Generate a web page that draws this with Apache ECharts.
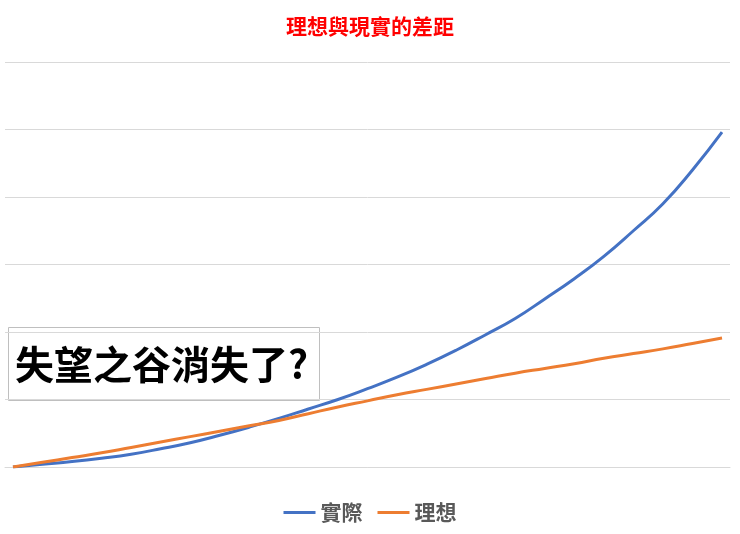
<!DOCTYPE html>
<html>
<head>
<meta charset="utf-8">
<script src="https://cdn.jsdelivr.net/npm/echarts@6/dist/echarts.min.js"></script>
<style>
  html, body { margin: 0; padding: 0; background: #fff; }
  #chart { width: 740px; height: 534px; }
</style>
</head>
<body>
<div id="chart"></div>
<script>
/* 理想與現實的差距：指數成長的實際曲線 vs 線性的理想曲線 */

const seriesNames = ['實際', '理想'];
const steps = [0, 1, 2, 3, 4, 5, 6, 7, 8, 9, 10, 11, 12, 13, 14, 15, 16, 17, 18, 19, 20, 21, 22, 23, 24];
const actual = [0, 0.4, 0.8, 1.3, 1.9, 2.7, 3.6, 4.7, 5.9, 7.2, 8.6, 10.0, 11.6, 13.3, 15.2, 17.3,
                19.6, 22.0, 24.9, 27.9, 31.2, 35.0, 39.0, 44.0, 49.6];
const ideal = [0, 0.7, 1.4, 2.1, 2.9, 3.7, 4.5, 5.3, 6.1, 6.9, 7.9, 8.9, 9.8, 10.7, 11.5, 12.3,
               13.1, 13.9, 14.6, 15.3, 16.1, 16.8, 17.5, 18.3, 19.1];

const colors = { blue: '#4472C4', orange: '#ED7D31', grid: '#d9d9d9', legend: '#595959' };
const cjk = '"Noto Sans CJK TC", "Noto Sans CJK SC", sans-serif';

const chart = echarts.init(document.getElementById('chart'), null, { renderer: 'canvas' });

chart.setOption({
  animation: false,
  title: {
    text: '理想與現實的差距',
    left: 'center',
    top: 11,
    textStyle: { color: '#ff0000', fontSize: 21, fontWeight: 'bold', fontFamily: cjk },
  },
  grid: { left: 5, right: 10, top: 62, bottom: 67 },
  legend: {
    bottom: 6,
    left: 'center',
    icon: 'rect',
    itemWidth: 32,
    itemHeight: 3,
    itemGap: 15,
    data: seriesNames,
    textStyle: { color: colors.legend, fontSize: 21, fontWeight: 'bold', fontFamily: cjk },
  },
  xAxis: {
    type: 'value',
    min: -0.27, max: 24.27,
    axisLine: { show: true, lineStyle: { color: colors.grid } },
    axisTick: { show: false },
    axisLabel: { show: false },
    splitLine: { show: false },
  },
  yAxis: {
    type: 'value',
    min: 0, max: 60, interval: 10,
    axisLine: { show: false },
    axisTick: { show: false },
    axisLabel: { show: false },
    splitLine: { lineStyle: { color: colors.grid, width: 1 } },
  },
  series: [
    {
      name: seriesNames[0], type: 'line', showSymbol: false, smooth: true,
      data: steps.map((s, i) => [s, actual[i]]),
      lineStyle: { color: colors.blue, width: 3 },
      itemStyle: { color: colors.blue },
    },
    {
      name: seriesNames[1], type: 'line', showSymbol: false, smooth: true,
      data: steps.map((s, i) => [s, ideal[i]]),
      lineStyle: { color: colors.orange, width: 3 },
      itemStyle: { color: colors.orange },
    },
  ],
  graphic: [{
    type: 'group',
    z: 100,
    children: [
      {
        type: 'rect',
        shape: { x: 8.5, y: 327.5, width: 311, height: 73 },
        style: { fill: '#fff', stroke: '#bfbfbf', lineWidth: 1 },
      },
      {
        type: 'text',
        x: 15, y: 364,
        style: {
          text: '失望之谷消失了?',
          fill: '#000', font: 'bold 39px ' + cjk,
          verticalAlign: 'middle', align: 'left',
        },
      },
    ],
  }],
});
</script>
</body>
</html>
